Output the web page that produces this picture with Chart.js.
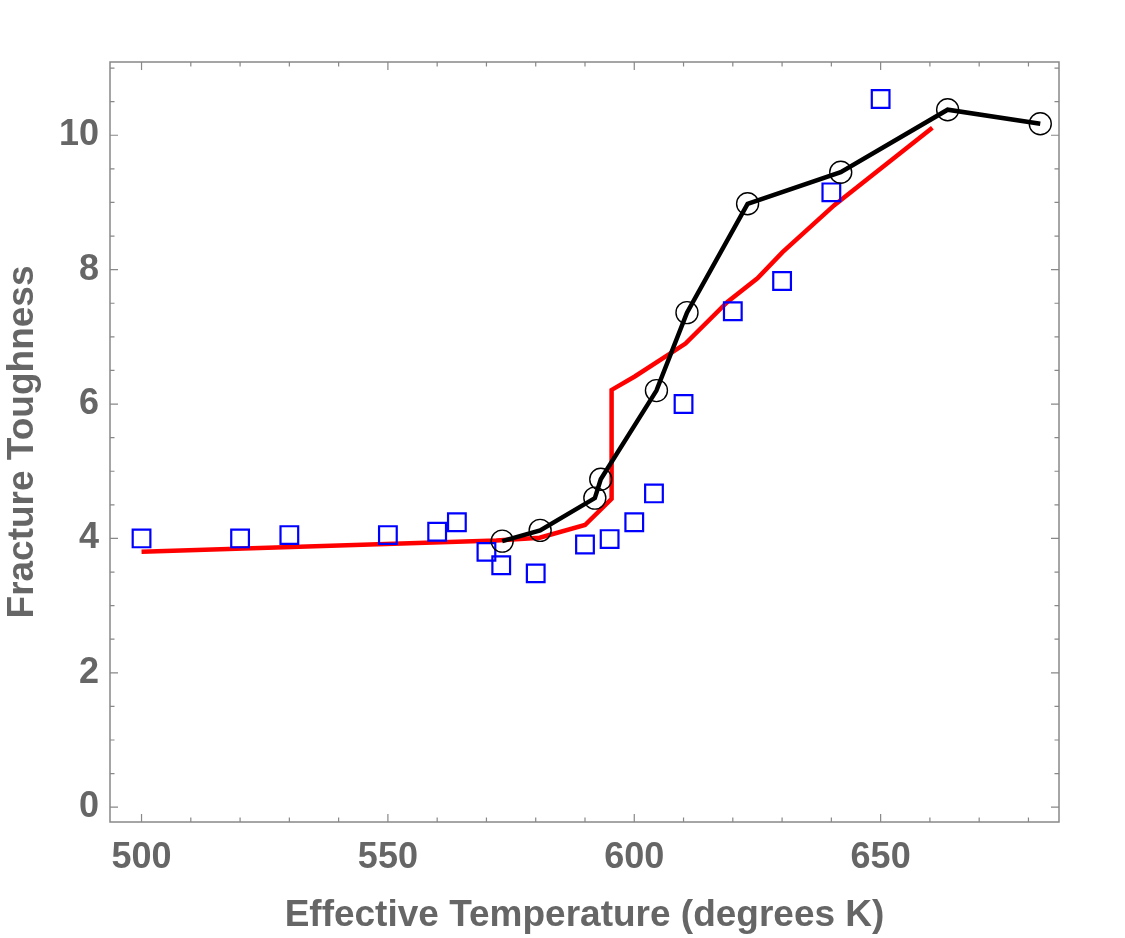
<!DOCTYPE html>
<html>
<head>
<meta charset="utf-8">
<script src="https://cdn.jsdelivr.net/npm/chart.js@4/dist/chart.umd.min.js"></script>
<style>
  html, body { margin: 0; padding: 0; background: #ffffff; }
  #wrap { width: 1125px; height: 938px; }
</style>
</head>
<body>
<div id="wrap"><canvas id="c" width="1125" height="938"></canvas></div>
<script>
// ---- Data ----
const measuredTemps = [500, 520, 530, 550, 560, 564, 570, 573, 580, 590, 595, 600, 604, 610, 620, 630, 640, 650];
const measuredToughness = [4.0, 4.0, 4.05, 4.05, 4.1, 4.24, 3.8, 3.6, 3.48, 3.91, 3.99, 4.24, 4.67, 6.0, 7.38, 7.83, 9.15, 10.54];

const fitTemps = [573.2, 580.9, 592.0, 593.2, 604.5, 610.7, 623.0, 641.9, 663.6, 682.4];
const fitToughness = [3.96, 4.12, 4.60, 4.88, 6.20, 7.36, 8.98, 9.45, 10.38, 10.17];

const modelTemps = [500, 572, 580.8, 590, 595.4, 595.4, 600.1, 610.4, 618.9, 625, 630.1, 640.6, 660.5];
const modelToughness = [3.80, 3.97, 4.01, 4.20, 4.59, 6.21, 6.41, 6.90, 7.52, 7.87, 8.26, 8.96, 10.11];

const xTickLabels = [500, 550, 600, 650];
const yTickLabels = [0, 2, 4, 6, 8, 10];
const xMinorStep = 10;
const yMinorStep = 0.5;

const xTitle = 'Effective Temperature (degrees K)';
const yTitle = 'Fracture Toughness';

const toPoints = (xs, ys) => xs.map((x, i) => ({ x: x, y: ys[i] }));

const textColor = '#666666';
const frameColor = '#888888';

// Frame + inward ticks on all four sides, positioned via the chart scales
const framePlugin = {
  id: 'frameTicks',
  afterDatasetsDraw(chart) {
    const { ctx, chartArea: a, scales: { x, y } } = chart;
    ctx.save();
    ctx.strokeStyle = frameColor;
    ctx.lineWidth = 1.5;
    ctx.strokeRect(a.left, a.top, a.right - a.left, a.bottom - a.top);
    ctx.lineWidth = 1.2;
    ctx.beginPath();
    const startX = Math.ceil(x.min / xMinorStep) * xMinorStep;
    for (let v = startX; v <= x.max + 1e-9; v += xMinorStep) {
      const px = x.getPixelForValue(v);
      const major = xTickLabels.includes(Math.round(v));
      const len = major ? 8 : 4.5;
      ctx.moveTo(px, a.bottom); ctx.lineTo(px, a.bottom - len);
      ctx.moveTo(px, a.top); ctx.lineTo(px, a.top + len);
    }
    const startY = Math.ceil(y.min / yMinorStep) * yMinorStep;
    for (let v = startY; v <= y.max + 1e-9; v += yMinorStep) {
      const py = y.getPixelForValue(v);
      const major = yTickLabels.some(t => Math.abs(t - v) < 1e-6);
      const len = major ? 8 : 4.5;
      ctx.moveTo(a.left, py); ctx.lineTo(a.left + len, py);
      ctx.moveTo(a.right, py); ctx.lineTo(a.right - len, py);
    }
    ctx.stroke();
    ctx.restore();
  }
};

new Chart(document.getElementById('c'), {
  type: 'scatter',
  data: {
    datasets: [
      {
        label: 'Fit',
        data: toPoints(fitTemps, fitToughness),
        showLine: true,
        borderColor: '#000000',
        borderWidth: 4.5,
        pointStyle: 'circle',
        pointRadius: 11,
        pointBorderWidth: 1.4,
        pointBorderColor: '#000000',
        pointBackgroundColor: 'rgba(0,0,0,0)',
        order: 0
      },
      {
        label: 'Measured',
        data: toPoints(measuredTemps, measuredToughness),
        showLine: false,
        pointStyle: 'rect',
        pointRadius: 12.5,
        pointBorderWidth: 2.2,
        pointBorderColor: '#0000ff',
        pointBackgroundColor: 'rgba(0,0,0,0)',
        order: 1
      },
      {
        label: 'Model',
        data: toPoints(modelTemps, modelToughness),
        showLine: true,
        borderColor: '#ff0000',
        borderWidth: 4.5,
        pointRadius: 0,
        order: 2
      }
    ]
  },
  options: {
    responsive: false,
    animation: false,
    devicePixelRatio: 1,
    layout: { padding: { top: 62, right: 66, left: 0, bottom: 0 } },
    plugins: { legend: { display: false }, tooltip: { enabled: false } },
    scales: {
      x: {
        type: 'linear',
        min: 493.6,
        max: 686.2,
        afterBuildTicks(scale) { scale.ticks = xTickLabels.map(v => ({ value: v })); },
        afterFit(scale) { scale.height = 116; },
        grid: { display: false, drawTicks: false },
        border: { display: false },
        ticks: {
          color: textColor,
          padding: 14,
          maxRotation: 0,
          autoSkip: false,
          font: { family: 'Liberation Sans, Arial, sans-serif', size: 36, weight: 'bold' }
        },
        title: {
          display: true,
          text: xTitle,
          color: textColor,
          padding: { top: 0, bottom: 0 },
          font: { family: 'Liberation Sans, Arial, sans-serif', size: 37, weight: 'bold' }
        }
      },
      y: {
        type: 'linear',
        min: -0.22,
        max: 11.09,
        afterBuildTicks(scale) { scale.ticks = yTickLabels.map(v => ({ value: v })); },
        afterFit(scale) { scale.width = 110; },
        grid: { display: false, drawTicks: false },
        border: { display: false },
        ticks: {
          color: textColor,
          padding: 11,
          autoSkip: false,
          font: { family: 'Liberation Sans, Arial, sans-serif', size: 36, weight: 'bold' }
        },
        title: {
          display: true,
          text: yTitle,
          color: textColor,
          padding: { top: 1, bottom: 0 },
          font: { family: 'Liberation Sans, Arial, sans-serif', size: 37, weight: 'bold' }
        }
      }
    }
  },
  plugins: [framePlugin]
});
</script>
</body>
</html>
